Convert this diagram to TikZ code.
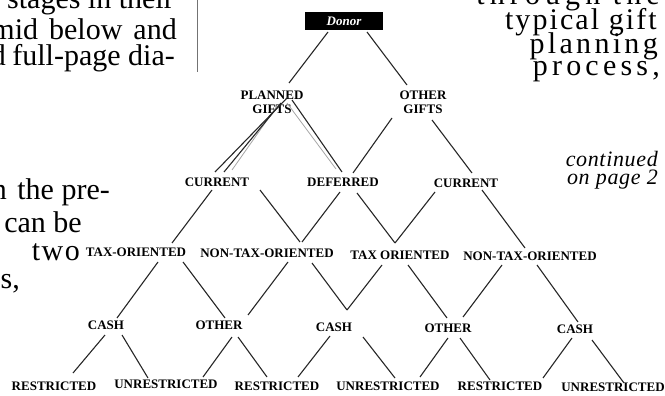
\documentclass[tikz,border=0pt]{standalone}
\usepackage{fontspec}
\setmainfont{Liberation Serif}
\usetikzlibrary{calc}
\newcommand\cnx[7][]{\draw[conn,#1] ($(#2.center)+(#3,#4)$) -- ($(#5.center)+(#6,#7)$);}
\tikzset{
  lab/.style={font=\fontsize{13}{14}\selectfont\bfseries, inner sep=0pt, align=center},
  body/.style={font=\fontsize{30}{30}\selectfont, inner sep=0pt, anchor=base east},
  conn/.style={line width=1.1pt, black!85},
  ghost/.style={line width=0.8pt, black!35},
}
\begin{document}
\begin{tikzpicture}[x=1pt,y=-1pt]
\useasboundingbox (0,0) rectangle (665,396);
\clip (0,0) rectangle (665,396);
% body text fragments
\node[body] (t1) at (174,9) {stages in their};
\node[body] (t2) at (177,40) {mid\hskip 11pt below\hskip 11pt and};
\node[body] (t3a) at (6,66) {d};
\node[body] (t3) at (175,66) {full-page dia-};
\node[body] (t4a) at (7,199) {n};
\node[body] (t4) at (110,199) {the pre-};
\node[body] (t5) at (82,232) {can be};
\node[body,font=\fontsize{30}{30}\selectfont\addfontfeature{LetterSpace=5}] (t6) at (80,260) {two};
\node[body] (t7) at (20,288) {s,};
\node[body,font=\fontsize{30}{30}\selectfont\addfontfeature{LetterSpace=17}] (r1) at (660,5) {through the};
\node[body,font=\fontsize{30}{30}\selectfont\addfontfeature{LetterSpace=7}] (r2) at (657,30) {typical gift};
\node[body,font=\fontsize{30}{30}\selectfont\addfontfeature{LetterSpace=11}] (r3) at (658,54) {planning};
\node[body,font=\fontsize{30}{30}\selectfont\addfontfeature{LetterSpace=14}] (r4) at (660,76) {process,};
\node[body,font=\fontsize{22}{22}\selectfont\itshape\addfontfeature{LetterSpace=3}] (c1t) at (658,166) {continued};
\node[body,font=\fontsize{22}{22}\selectfont\itshape\addfontfeature{LetterSpace=3}] (c2t) at (658,185) {on page 2};
\coordinate (vt) at (197.5,0);
\coordinate (vb) at (197.5,72);
\draw[black!55, line width=0.9pt] (vt) -- (vb);
% diagram nodes
\node[fill=black, text=white, minimum width=78pt, minimum height=18pt, inner sep=0pt,
      font=\fontsize{13}{13}\selectfont\bfseries\itshape] (donor) at (344,21) {Donor};
\node[lab] (pg) at (272,102) {PLANNED\\GIFTS};
\node[lab] (og) at (423,102) {OTHER\\GIFTS};
\node[lab] (c1) at (217,182) {CURRENT};
\node[lab] (def) at (343,182) {DEFERRED};
\node[lab] (c2) at (466,183) {CURRENT};
\node[lab] (tx1) at (136,252) {TAX-ORIENTED};
\node[lab] (nt1) at (267,253) {NON-TAX-ORIENTED};
\node[lab] (tx2) at (400,255) {TAX ORIENTED};
\node[lab] (nt2) at (530,256) {NON-TAX-ORIENTED};
\node[lab] (k1) at (106,325) {CASH};
\node[lab] (o1) at (219,325) {OTHER};
\node[lab] (k2) at (334,327) {CASH};
\node[lab] (o2) at (448,328) {OTHER};
\node[lab] (k3) at (575,329) {CASH};
\node[lab] (rs1) at (54,386) {RESTRICTED};
\node[lab] (us1) at (166,384) {UNRESTRICTED};
\node[lab] (rs2) at (277,386) {RESTRICTED};
\node[lab] (us2) at (388,386) {UNRESTRICTED};
\node[lab] (rs3) at (500,386) {RESTRICTED};
\node[lab] (us3) at (613,387) {UNRESTRICTED};
% connectors
\cnx{donor}{-16}{11}{pg}{17}{-19}
\cnx{donor}{23}{11}{og}{-16}{-17}
\cnx[ghost]{pg}{5}{4}{c1}{15}{-12}
\cnx[ghost]{pg}{15}{1}{def}{-7}{-13}
\cnx{pg}{16}{-5}{c1}{-2}{-10}
\cnx{pg}{9}{1}{c1}{7}{-10}
\cnx{pg}{20}{-2}{def}{-1}{-10}
\cnx{og}{-31}{16}{def}{10}{-9}
\cnx{og}{9}{18}{c2}{6}{-10}
\cnx{c1}{-5}{8}{tx1}{36}{-9}
\cnx{c1}{43}{8}{nt1}{33}{-11}
\cnx{def}{-3}{10}{nt1}{35}{-11}
\cnx{def}{14}{11}{tx2}{-5}{-12}
\cnx{c2}{-31}{9}{tx2}{-5}{-12}
\cnx{c2}{16}{7}{nt2}{-5}{-8}
\cnx{tx1}{22}{10}{k1}{11}{-7}
\cnx{tx1}{47}{10}{o1}{6}{-7}
\cnx{nt1}{21}{9}{o1}{29}{-10}
\cnx{nt1}{45}{10}{k2}{13}{-17}
\cnx{tx2}{-18}{10}{k2}{13}{-17}
\cnx{tx2}{8}{10}{o2}{-1}{-10}
\cnx{nt2}{-28}{9}{o2}{15}{-11}
\cnx{nt2}{7}{9}{k3}{3}{-7}
\cnx{k1}{-1}{10}{rs1}{19}{-13}
\cnx{k1}{16}{10}{us1}{-18}{-6}
\cnx{o1}{13}{12}{us1}{37}{-7}
\cnx{o1}{19}{12}{rs2}{-10}{-9}
\cnx{k2}{-4}{9}{rs2}{21}{-9}
\cnx{k2}{29}{10}{us2}{7}{-8}
\cnx{o2}{0}{10}{us2}{32}{-9}
\cnx{o2}{12}{10}{rs3}{-10}{-6}
\cnx{k3}{-3}{9}{rs3}{43}{-8}
\cnx{k3}{17}{11}{us3}{11}{-4}
\end{tikzpicture}
\end{document}
